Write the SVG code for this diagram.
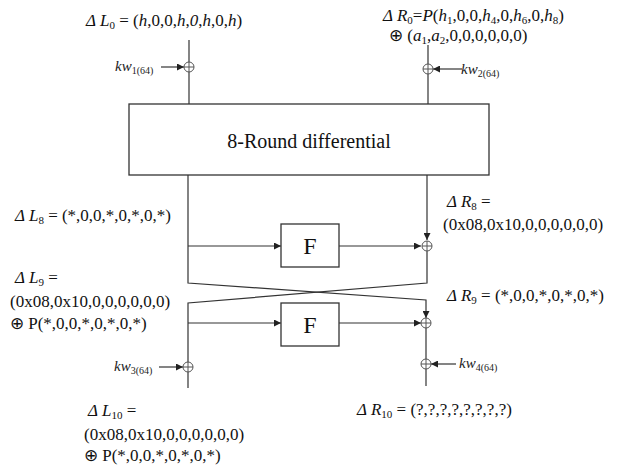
<svg xmlns="http://www.w3.org/2000/svg" width="638" height="466" viewBox="0 0 638 466">
<style>
.ln{stroke:#333;stroke-width:1.2;fill:none}
.bx{stroke:#333;stroke-width:1.3;fill:#fff}
.xo{stroke:#555;stroke-width:1;fill:#fff}
.t{font-family:"Liberation Serif","Times New Roman",serif;font-size:17px;fill:#111}
.i{font-style:italic}
.s{font-size:11px}
.kw{font-family:"Liberation Serif","Times New Roman",serif;font-size:15px;font-style:italic;fill:#222}
.ks{font-size:10px;font-style:normal}
</style>
<defs>
<marker id="ah" viewBox="0 0 10 10" refX="10" refY="5" markerWidth="8" markerHeight="7" markerUnits="userSpaceOnUse" orient="auto"><path d="M0,0L10,5L0,10z" fill="#222"/></marker>
<g id="xor"><circle r="5" class="xo"/><path d="M-5,0H5M0,-5V5" class="xo"/></g>
</defs>
<rect width="638" height="466" fill="#fff"/>
<g id="connectors">
<path class="ln" d="M189,40V104"/>
<path class="ln" d="M161,67H184" marker-end="url(#ah)"/>
<path class="ln" d="M428,45V104"/>
<path class="ln" d="M462,69H433" marker-end="url(#ah)"/>
<path class="ln" d="M188,175V283L426,300V318" marker-end="url(#ah)"/>
<path class="ln" d="M427,175V240" marker-end="url(#ah)"/>
<path class="ln" d="M188,246H281" marker-end="url(#ah)"/>
<path class="ln" d="M339,246H421" marker-end="url(#ah)"/>
<path class="ln" d="M427,251V283L188,303V388"/>
<path class="ln" d="M188,323H281" marker-end="url(#ah)"/>
<path class="ln" d="M339,323H421" marker-end="url(#ah)"/>
<path class="ln" d="M426,328V386"/>
<path class="ln" d="M159,367H183" marker-end="url(#ah)"/>
<path class="ln" d="M456,364H431" marker-end="url(#ah)"/>
</g>
<g id="xor1"><use href="#xor" x="189" y="67"/></g>
<g id="xor2"><use href="#xor" x="428" y="69"/></g>
<g id="xor3"><use href="#xor" x="427" y="246"/></g>
<g id="xor4"><use href="#xor" x="426" y="323"/></g>
<g id="xor5"><use href="#xor" x="188" y="367"/></g>
<g id="xor6"><use href="#xor" x="426" y="364"/></g>
<g id="round8"><rect class="bx" x="129" y="104" width="360" height="71"/><text class="t" x="309" y="148" text-anchor="middle" style="font-size:20px">8-Round differential</text></g>
<g id="f1"><rect class="bx" x="281" y="224" width="58" height="43"/><text class="t" x="310" y="254" text-anchor="middle" style="font-size:24px">F</text></g>
<g id="f2"><rect class="bx" x="281" y="303" width="58" height="43"/><text class="t" x="310" y="333" text-anchor="middle" style="font-size:24px">F</text></g>
<g id="labels">
<text class="t" x="86" y="26"><tspan class="i">Δ L</tspan><tspan class="s" dy="3">0</tspan><tspan dy="-3"> = (</tspan><tspan class="i">h</tspan>,0,0,<tspan class="i">h</tspan>,<tspan class="i">0</tspan>,<tspan class="i">h</tspan>,0,<tspan class="i">h</tspan>)</text>
<text class="t" x="383" y="21"><tspan class="i">Δ R</tspan><tspan class="s" dy="3">0</tspan><tspan dy="-3">=</tspan><tspan class="i">P</tspan>(<tspan class="i">h</tspan><tspan class="s" dy="3">1</tspan><tspan dy="-3">,0,0,</tspan><tspan class="i">h</tspan><tspan class="s" dy="3">4</tspan><tspan dy="-3">,0,</tspan><tspan class="i">h</tspan><tspan class="s" dy="3">6</tspan><tspan dy="-3">,0,</tspan><tspan class="i">h</tspan><tspan class="s" dy="3">8</tspan><tspan dy="-3">)</tspan></text>
<text class="t" x="389" y="41">⊕ (<tspan class="i">a</tspan><tspan class="s" dy="3">1</tspan><tspan dy="-3">,</tspan><tspan class="i">a</tspan><tspan class="s" dy="3">2</tspan><tspan dy="-3">,0,0,0,0,0,0)</tspan></text>
<text class="kw" x="115" y="71">kw<tspan class="ks" dy="3">1(64)</tspan></text>
<text class="kw" x="461" y="74">kw<tspan class="ks" dy="3">2(64)</tspan></text>
<text class="t" x="15" y="221"><tspan class="i">Δ L</tspan><tspan class="s" dy="3">8</tspan><tspan dy="-3"> = (*,0,0,*,0,*,0,*)</tspan></text>
<text class="t" x="15" y="283"><tspan class="i">Δ L</tspan><tspan class="s" dy="3">9</tspan><tspan dy="-3"> =</tspan></text>
<text class="t" x="10" y="307">(0x08,0x10,0,0,0,0,0,0)</text>
<text class="t" x="10" y="329">⊕ P(*,0,0,*,0,*,0,*)</text>
<text class="t" x="447" y="207"><tspan class="i">Δ R</tspan><tspan class="s" dy="3">8</tspan><tspan dy="-3"> =</tspan></text>
<text class="t" x="443" y="230">(0x08,0x10,0,0,0,0,0,0)</text>
<text class="t" x="447" y="301"><tspan class="i">Δ R</tspan><tspan class="s" dy="3">9</tspan><tspan dy="-3"> = (*,0,0,*,0,*,0,*)</tspan></text>
<text class="kw" x="114" y="371">kw<tspan class="ks" dy="3">3(64)</tspan></text>
<text class="kw" x="459" y="368">kw<tspan class="ks" dy="3">4(64)</tspan></text>
<text class="t" x="88" y="416"><tspan class="i">Δ L</tspan><tspan class="s" dy="3">10</tspan><tspan dy="-3"> =</tspan></text>
<text class="t" x="84" y="440">(0x08,0x10,0,0,0,0,0,0)</text>
<text class="t" x="84" y="461">⊕ P(*,0,0,*,0,*,0,*)</text>
<text class="t" x="357" y="415"><tspan class="i">Δ R</tspan><tspan class="s" dy="3">10</tspan><tspan dy="-3"> = (?,?,?,?,?,?,?,?)</tspan></text>
</g>
</svg>
